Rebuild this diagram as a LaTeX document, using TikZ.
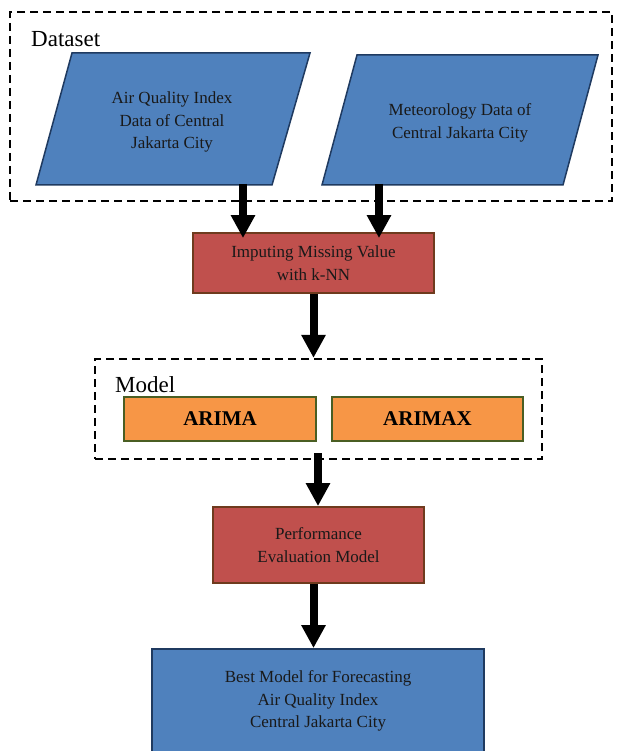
\documentclass[tikz,border=0pt]{standalone}
\usepackage{fontspec}
\setmainfont{Liberation Serif}
\usetikzlibrary{arrows.meta,calc}
\definecolor{bfill}{HTML}{4F81BD}
\definecolor{bline}{HTML}{1F3A60}
\definecolor{rfill}{HTML}{C0504D}
\definecolor{rline}{HTML}{6F3B1E}
\definecolor{ofill}{HTML}{F79646}
\definecolor{oline}{HTML}{4A5E23}
\tikzset{
  dashbox/.style={draw=black,line width=2.2pt,dash pattern=on 8pt off 5pt,minimum width=#1},
  boxtext/.style={align=center,font=\fontsize{17}{22.5}\selectfont,text=black!90},
  redbox/.style={draw=rline,fill=rfill,line width=1.8pt,boxtext},
  orbox/.style={draw=oline,fill=ofill,line width=1.8pt,font=\fontsize{21}{24}\selectfont\bfseries,minimum width=191pt,minimum height=44pt},
  bluebox/.style={draw=bline,fill=bfill,line width=1.8pt,boxtext},
  para/.style={draw=bline,fill=bfill,line width=1.5pt},
  bigarrow/.style={line width=8pt,-{Triangle[width=23pt,length=23pt]}},
  lbl/.style={anchor=base west,font=\fontsize{23}{26}\selectfont,inner sep=0pt}
}
\begin{document}
\begin{tikzpicture}[x=1pt,y=-1pt]
\useasboundingbox (0,0) rectangle (616,751);
% dataset group
\node[dashbox=602pt,minimum height=189pt] (dsbox) at (311,106.5) {};
\node[lbl] (dslbl) at (31,47) {Dataset};
\draw[para] (72,53) -- (310,53) -- (272,185) -- (36,185) -- cycle;
\draw[para] (357,55) -- (598,55) -- (563,185) -- (322,185) -- cycle;
\node[boxtext] (aqi) at (172,122) {Air Quality Index\\Data of Central\\Jakarta City};
\node[boxtext] (met) at (460,123) {Meteorology Data of\\Central Jakarta City};
\coordinate (p1b) at (243,184);
\coordinate (p2b) at (379,184);
% imputing
\node[redbox,minimum width=241pt,minimum height=60pt] (imp) at (313.5,263) {Imputing Missing Value\\with k-NN};
% model group
\node[dashbox=447pt,minimum height=100pt] (mdbox) at (318.5,409) {};
\node[lbl] (mdlbl) at (115,392) {Model};
\node[orbox,minimum width=192pt] (arima) at (220,419) {ARIMA};
\node[orbox] (arimax) at (427.5,419) {ARIMAX};
% performance
\node[redbox,minimum width=211pt,minimum height=76pt] (perf) at (318.5,545) {Performance\\Evaluation Model};
% best
\node[bluebox,minimum width=332pt,minimum height=104pt] (best) at (318,701) {Best Model for Forecasting\\Air Quality Index\\Central Jakarta City};
% arrows
\draw[bigarrow,shorten >=-6pt] (p1b) -- (imp.north -| p1b);
\draw[bigarrow,shorten >=-6pt] (p2b) -- (imp.north -| p2b);
\draw[bigarrow] (imp.south) coordinate (i3) -- (mdbox.north -| i3);
\coordinate (m4) at ($(mdbox.south)+(-0.5,-7)$);
\draw[bigarrow] (m4) -- (perf.north -| m4);
\coordinate (p5) at ($(perf.south)+(-5,0)$);
\draw[bigarrow] (p5) -- (best.north -| p5);
\end{tikzpicture}
\end{document}
